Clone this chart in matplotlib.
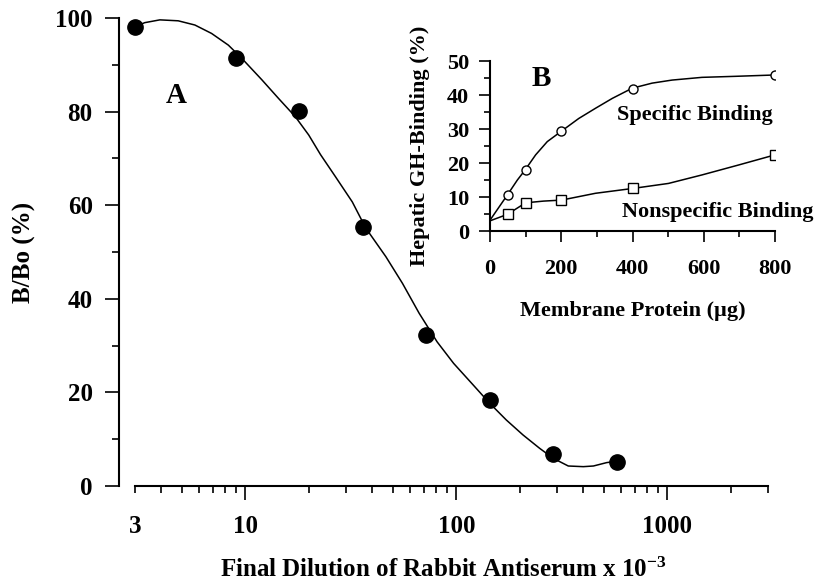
import matplotlib
import numpy as np

matplotlib.use("Agg")

from matplotlib import pyplot as plt  # noqa: E402
from matplotlib.ticker import FixedLocator, FuncFormatter, NullFormatter  # noqa: E402

plt.rcParams["font.family"] = ["Liberation Serif", "DejaVu Serif"]
plt.rcParams["font.weight"] = "bold"
plt.rcParams["mathtext.fontset"] = "custom"
plt.rcParams["mathtext.rm"] = "Liberation Serif:bold"
plt.rcParams["mathtext.default"] = "rm"

# panel A: antiserum dilution curve
dilution = [3, 9, 18, 36, 72, 144, 288, 576]
b_bo = [98.1, 91.4, 80.2, 55.3, 32.3, 18.4, 6.8, 5.1]
# fitted curve
fit_dilution = [3.0, 3.33, 3.93, 4.80, 5.76, 6.91, 8.30, 9.60, 11.96, 14.36, 17.24,
                19.95, 22.7, 26.7, 32.1, 37.2, 46.3, 55.5, 66.6, 81.0, 97.0, 120,
                143.6, 172.4, 206.9, 248, 288, 339, 399.5, 446, 516, 560]
fit_b_bo = [98.1, 99.0, 99.6, 99.4, 98.5, 96.7, 94.2, 91.4, 86.8, 82.8, 78.9,
            75.0, 70.8, 66.1, 60.7, 55.1, 49.0, 43.3, 36.9, 30.8, 26.2, 21.6,
            17.7, 14.1, 10.9, 8.05, 5.9, 4.27, 4.13, 4.27, 5.0, 5.2]

# panel B: binding vs membrane protein
protein = [50, 100, 200, 400, 800]
specific = [10.6, 17.9, 29.4, 41.9, 45.9]
nonspecific = [4.9, 8.3, 9.1, 12.6, 22.4]
fit_protein = [0, 48.6, 76.7, 98, 128, 160.7, 200.8, 249, 296, 343, 399, 455, 511,
               595, 688, 800]
fit_specific = [3.2, 10.6, 15.0, 17.9, 22.4, 26.3, 29.4, 33.1, 36.1, 39.0, 42.0,
                43.5, 44.4, 45.2, 45.5, 45.9]
fit_protein_ns = [0, 48.6, 100, 150, 200.8, 296, 399, 501, 595, 697, 800]
fit_nonspecific = [3.0, 4.9, 8.3, 8.8, 9.1, 11.1, 12.5, 14.0, 16.5, 19.4, 22.4]

fig = plt.figure(figsize=(8.17, 5.88), dpi=100)
ax = fig.add_axes([0.1457, 0.1735, 0.7944, 0.7959])

ax.plot(fit_dilution, fit_b_bo, color="black", linewidth=1.1)
ax.plot(dilution, b_bo, "o", color="black", markersize=11)
ax.set_xscale("log")
x_left = 3 / 10 ** (16 / 210)
ax.set_xlim(x_left, 3000)
ax.set_ylim(0, 100)
for side in ("top", "right"):
    ax.spines[side].set_visible(False)
ax.spines["bottom"].set_bounds(3, 3000)
for side in ("left", "bottom"):
    ax.spines[side].set_linewidth(1.5)

ax.xaxis.set_major_locator(FixedLocator([10, 100, 1000]))
minor_x = [3, 4, 5, 6, 7, 8, 9, 20, 30, 40, 50, 60, 70, 80, 90,
           200, 300, 400, 500, 600, 700, 800, 900, 2000, 3000]
ax.xaxis.set_minor_locator(FixedLocator(minor_x))
ax.xaxis.set_major_formatter(FuncFormatter(lambda v, p: f"{v:g}"))
ax.xaxis.set_minor_formatter(FuncFormatter(lambda v, p: "3" if v == 3 else ""))
ax.set_yticks([0, 20, 40, 60, 80, 100])
ax.set_yticks([10, 30, 50, 70, 90], minor=True)
ax.tick_params(axis="x", which="major", length=10, width=1.2, pad=11, labelsize=18)
ax.tick_params(axis="x", which="minor", length=5, width=1.2, pad=16, labelsize=18)
ax.tick_params(axis="y", which="major", length=10, width=1.2, pad=9, labelsize=18)
ax.tick_params(axis="y", which="minor", length=5, width=1.2)
ax.set_xlabel("Final Dilution of Rabbit Antiserum x 10$^{-3}$", fontsize=18,
              fontweight="bold", labelpad=14)
ax.set_ylabel("B/Bo (%)", fontsize=18, fontweight="bold", labelpad=14)
ax.text(0.088, 0.835, "A", transform=ax.transAxes, fontsize=21, fontweight="bold",
        ha="center", va="center")

inset = fig.add_axes([0.5998, 0.6071, 0.3488, 0.2891])
inset.patch.set_alpha(0)
inset.plot(fit_protein, fit_specific, color="black", linewidth=1.1)
inset.plot(fit_protein_ns, fit_nonspecific, color="black", linewidth=1.1)
inset.plot(protein, specific, "o", markersize=6.5, markerfacecolor="white",
           markeredgecolor="black", markeredgewidth=1.0, color="black")
inset.plot(protein, nonspecific, "s", markersize=6.5, markerfacecolor="white",
           markeredgecolor="black", markeredgewidth=1.0, color="black")
inset.set_xlim(0, 800)
inset.set_ylim(0, 50)
for side in ("top", "right"):
    inset.spines[side].set_visible(False)
for side in ("left", "bottom"):
    inset.spines[side].set_linewidth(1.5)
inset.set_xticks([0, 200, 400, 600, 800])
inset.set_xticks([100, 300, 500, 700], minor=True)
inset.set_yticks([0, 10, 20, 30, 40, 50])
inset.set_yticks([5, 15, 25, 35, 45], minor=True)
inset.xaxis.set_minor_formatter(NullFormatter())
inset.tick_params(which="major", length=8, width=1.2, labelsize=16)
inset.tick_params(which="minor", length=4, width=1.2)
inset.tick_params(axis="x", which="major", pad=12)
inset.tick_params(axis="y", which="major", pad=7)
inset.set_xlabel("Membrane Protein (\u00b5g)", fontsize=16, fontweight="bold", labelpad=16)
inset.set_ylabel("Hepatic GH-Binding (%)", fontsize=16, fontweight="bold", labelpad=12)
inset.text(0.18, 0.90, "B", transform=inset.transAxes, fontsize=21, fontweight="bold",
           ha="center", va="center")
inset.text(0.719, 0.682, "Specific Binding", transform=inset.transAxes, fontsize=16,
           fontweight="bold", ha="center", va="center")
inset.text(0.80, 0.112, "Nonspecific Binding", transform=inset.transAxes, fontsize=16,
           fontweight="bold", ha="center", va="center")

fig.savefig("out.png", dpi=100)
plt.close(fig)
